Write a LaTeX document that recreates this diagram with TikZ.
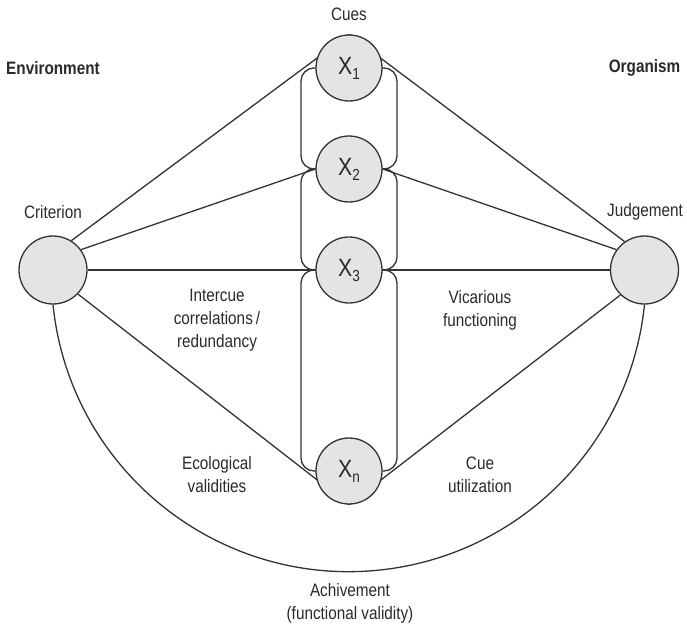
\documentclass[tikz,border=0pt]{standalone}
\usepackage{fontspec}
\setmainfont[FakeStretch=0.85]{Liberation Sans}
\usetikzlibrary{backgrounds}
\definecolor{linec}{HTML}{333333}
\definecolor{fillc}{HTML}{E4E4E4}
\definecolor{textc}{HTML}{2A2A2A}
\newcommand{\cuesub}[1]{X\raisebox{-0.2em}{\fontsize{16}{16}\selectfont #1}}
\begin{document}
\begin{tikzpicture}[x=1pt,y=-1pt,
  conn/.style={draw=linec, line width=1.3pt},
  cue/.style={circle, draw=linec, fill=fillc, line width=1.3pt, minimum size=66pt, inner sep=0pt, font=\fontsize{25}{25}\selectfont, text=textc},
  pole/.style={circle, draw=linec, fill=fillc, line width=1.3pt, minimum size=68pt, inner sep=0pt},
  lab/.style={font=\fontsize{18}{23}\selectfont, text=textc, align=center},
  blab/.style={font=\bfseries\fontsize{18}{23}\selectfont, text=textc}]
\useasboundingbox (0,0) rectangle (687,626);
% nodes
\node[cue] (x1) at (349,68) {\cuesub{1}};
\node[cue] (x2) at (349,169) {\cuesub{2}};
\node[cue] (x3) at (349,270) {\cuesub{3}};
\node[cue] (xn) at (349,471) {\cuesub{n}};
\node[pole] (crit) at (53,270) {};
\node[pole] (judg) at (644.5,270) {};
% labels
\node[blab] (env) at (53,68) {Environment};
\node[blab] (org) at (644.5,68) {Organism};
\node[lab] (cues) at (349,14) {Cues};
\node[lab] (critlab) at (53,212) {Criterion};
\node[lab] (judglab) at (645,212) {Judgement};
\node[lab] (inter) at (217,320) {Intercue\\correlations\,/\\redundancy};
\node[lab] (vic) at (480,310) {Vicarious\\functioning};
\node[lab] (eco) at (217,475) {Ecological\\validities};
\node[lab] (util) at (480,475) {Cue\\utilization};
\node[lab] (ach) at (350,603) {Achivement\\(functional validity)};
% connectors behind the circles
\begin{scope}[on background layer]
  \draw[conn] (crit.58) -- (x1.north);
  \draw[conn] (x1.north) -- (judg.125);
  \draw[conn] (crit.36) -- (x2.west);
  \draw[conn] (x2.east) -- (judg.144);
  \draw[conn] (crit.east) -- (x3.west);
  \draw[conn] (x3.east) -- (judg.west);
  \draw[conn] (crit.-44) -- (xn.south);
  \draw[conn] (xn.south) -- (judg.226);
  \draw[conn, rounded corners=13pt] ([xshift=-48pt]x1.center) rectangle ([xshift=48pt]x2.center);
  \draw[conn, rounded corners=13pt] ([xshift=-48pt]x2.center) rectangle ([xshift=48pt]x3.center);
  \draw[conn, rounded corners=13pt] ([xshift=-48pt]x3.center) rectangle ([xshift=48pt]xn.center);
  \draw[conn] (crit.south) arc[start angle=174.15, end angle=5.85, radius=297.3];
\end{scope}
\end{tikzpicture}
\end{document}
